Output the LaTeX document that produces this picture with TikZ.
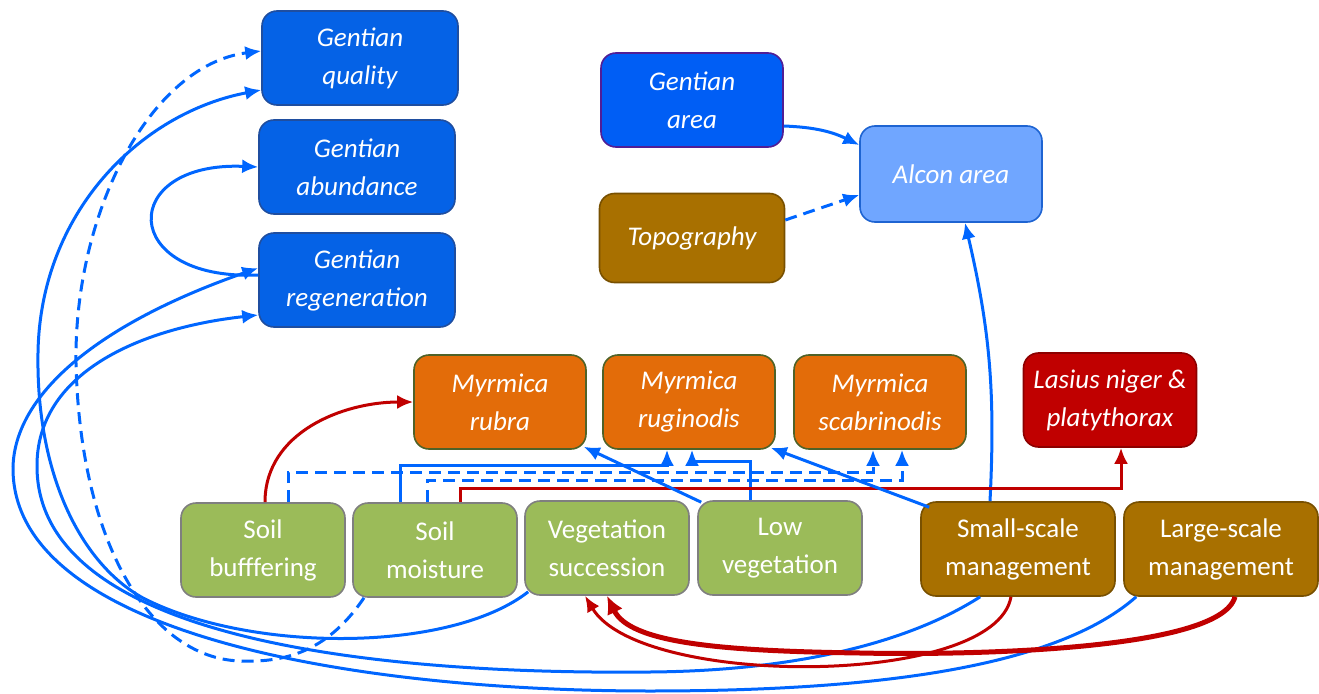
\documentclass[tikz,border=0pt]{standalone}
\usepackage{fontspec}
\setmainfont{Carlito}
\usetikzlibrary{arrows.meta}

\definecolor{gentianblue}{RGB}{5,98,230}
\definecolor{gentianedge}{RGB}{31,78,160}
\definecolor{areablue}{RGB}{0,94,245}
\definecolor{areaedge}{RGB}{80,30,150}
\definecolor{alconblue}{RGB}{112,166,255}
\definecolor{alconedge}{RGB}{30,100,210}
\definecolor{antorange}{RGB}{227,108,9}
\definecolor{antedge}{RGB}{79,98,40}
\definecolor{lasiusred}{RGB}{192,0,0}
\definecolor{lasiusedge}{RGB}{140,0,0}
\definecolor{soilgreen}{RGB}{155,187,89}
\definecolor{soiledge}{RGB}{127,127,127}
\definecolor{mgmtbrown}{RGB}{168,112,0}
\definecolor{mgmtedge}{RGB}{120,80,0}
\definecolor{linkblue}{RGB}{0,102,255}
\definecolor{linkred}{RGB}{192,0,0}

\newcommand{\boxfont}{\fontsize{13.5pt}{19pt}\selectfont}

\begin{document}
\begin{tikzpicture}
        [
            x = 0.5pt, y = 0.5pt,
            boxed/.style     = {shape=rectangle, draw, align=center, rounded corners=7.5pt,
                                line width=0.8pt, text=white, minimum height=47pt,
                                inner sep=2pt, font=\boxfont},
            gentian/.style   = {boxed, fill=gentianblue, draw=gentianedge, minimum width=98pt, font=\boxfont\itshape},
            ant/.style       = {boxed, fill=antorange, draw=antedge, minimum width=86pt, font=\boxfont\itshape},
            soil/.style      = {boxed, fill=soilgreen, draw=soiledge, minimum width=82pt},
            mgmt/.style      = {boxed, fill=mgmtbrown, draw=mgmtedge, minimum width=97pt},
            link/.style      = {draw=linkblue, line width=1.5pt, -{Latex[length=8pt,width=7pt]}},
            dashlink/.style  = {link, dash pattern=on 6pt off 3.5pt},
            redlink/.style   = {link, draw=linkred},
            thicklink/.style = {redlink, line width=2.5pt, -{Latex[length=9pt,width=8.5pt]}},
        ]
        \useasboundingbox (0,0) rectangle (1319,693);

        % boxes
        \node [gentian] (quality)   at (360,635) {Gentian\\quality};
        \node [gentian] (abundance) at (357,526) {Gentian\\abundance};
        \node [gentian] (regen)     at (357,413) {Gentian\\regeneration};
        \node [gentian, fill=areablue, draw=areaedge, minimum width=91pt] (garea) at (692,593) {Gentian\\area};
        \node [boxed, fill=mgmtbrown, draw=mgmtedge, minimum width=92.5pt, minimum height=44.5pt,
               font=\boxfont\itshape] (topo) at (692,455) {Topography};
        \node [gentian, fill=alconblue, draw=alconedge, minimum width=91pt, minimum height=48pt] (alcon) at (951,519) {Alcon area};
        \node [ant] (rubra) at (500,291) {Myrmica\\rubra};
        \node [ant] (rugi)  at (689,291) {Myrmica\\ruginodis};
        \node [ant] (scab)  at (880,291) {Myrmica\\scabrinodis};
        \node [ant, fill=lasiusred, draw=lasiusedge, minimum width=86.5pt] (lasius) at (1110,293) {Lasius niger \&\\platythorax};
        \node [soil] (buffer) at (263,143) {Soil\\bufffering};
        \node [soil] (moist)  at (435,143) {Soil\\moisture};
        \node [soil] (succ)   at (607,145) {Vegetation\\succession};
        \node [soil] (lowveg) at (780,145) {Low\\vegetation};
        \node [mgmt] (small)  at (1018,144) {Small-scale\\management};
        \node [mgmt] (large)  at (1221,144) {Large-scale\\management};

        % long curves to the gentian boxes
        \draw [dashlink] ([xshift=-35.5pt]moist.south) .. controls (330,45) and (290,30) .. (240,32)
            .. controls (150,35) and (80,150) .. (76,330)
            .. controls (74,480) and (150,628) .. ([yshift=3.5pt]quality.west);
        \draw [link] ([xshift=2pt,yshift=2pt]succ.south west) .. controls (450,40) and (250,40) .. (143,95)
            .. controls (80,130) and (36,220) .. (38,340)
            .. controls (40,480) and (140,580) .. ([yshift=-16pt]quality.west);
        \draw [link] ([xshift=6.5pt]large.south west) .. controls (1050,20) and (850,2) .. (650,2)
            .. controls (350,2) and (11,60) .. (13,226)
            .. controls (15,300) and (100,370) .. ([yshift=6pt]regen.west);
        \draw [link] ([xshift=30pt]small.south west) .. controls (900,45) and (780,22) .. (650,21)
            .. controls (350,18) and (38,60) .. (37,226)
            .. controls (36,320) and (140,365) .. ([yshift=-17.5pt]regen.west);
        \draw [link] ([yshift=2.5pt]regen.west) .. controls (118,412) and (118,532) .. (abundance.west);

        % alcon area
        \draw [link] ([yshift=-13pt]garea.east) to [bend left=12] ([yshift=14.5pt]alcon.west);
        \draw [dashlink] ([yshift=9pt]topo.east) -- ([yshift=-10.5pt]alcon.west);
        \draw [link] ([xshift=-14pt]small.north) to [bend right=8] ([xshift=7pt]alcon.south);

        % ants
        \draw [redlink] ([xshift=1pt]buffer.north) to [out=90, in=180] (rubra.west);
        \draw [dashlink] ([xshift=12.5pt]buffer.north) -- ++(0,30) -| ([xshift=-3.5pt]scab.south);
        \draw [dashlink] ([xshift=-4pt]moist.north) -- ++(0,22) -| ([xshift=11pt]scab.south);
        \draw [link] ([xshift=-17.5pt]moist.north) -- ++(0,37) -| ([xshift=-11pt]rugi.south);
        \draw [link] ([xshift=-15pt]lowveg.north) -- ++(0,39) -| ([xshift=1.5pt]rugi.south);
        \draw [redlink] ([xshift=12.5pt]moist.north) -- ++(0,14) -| ([xshift=5.5pt]lasius.south);
        \draw [link] ([xshift=2pt,yshift=-1pt]lowveg.north west) -- ([xshift=-1.5pt,yshift=1.5pt]rubra.south east);
        \draw [link] ([xshift=4.5pt,yshift=-3pt]small.north west) -- ([xshift=-2.5pt,yshift=1pt]rugi.south east);

        % management to succession
        \draw [redlink] ([xshift=-3.5pt]small.south) .. controls (995,5) and (640,5) .. ([xshift=-11pt]succ.south);
        \draw [thicklink] ([xshift=7pt]large.south) .. controls (1220,40) and (950,38) .. (860,40)
            .. controls (720,42) and (630,50) .. (succ.south);
    \end{tikzpicture}
\end{document}
